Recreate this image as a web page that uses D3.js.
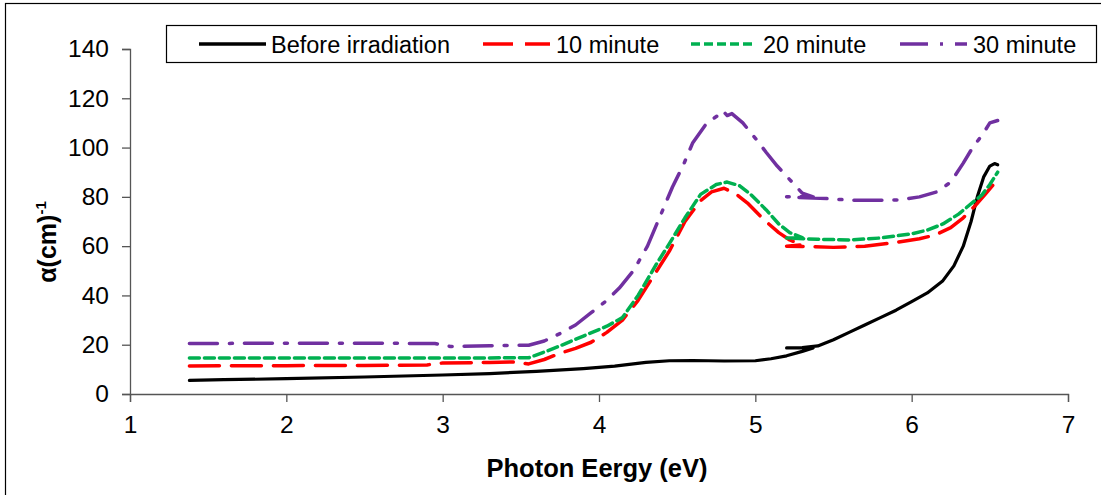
<!DOCTYPE html>
<html>
<head>
<meta charset="utf-8">
<script src="https://cdn.jsdelivr.net/npm/d3@7/dist/d3.min.js"></script>
<style>
  html, body { margin: 0; padding: 0; background: #fff; }
  svg { display: block; font-family: Arial, "Liberation Sans", sans-serif; }
</style>
</head>
<body>
<svg id="chart" width="1101" height="495"></svg>
<script>
// values: [photon energy (eV), alpha (cm^-1)]
const beforeData = [
  [1.38,5.5],[1.6,5.8],[2,6.2],[2.5,6.9],[3,7.7],[3.3,8.3],[3.6,9.2],[3.9,10.3],
  [4.1,11.3],[4.3,12.8],[4.45,13.5],[4.6,13.6],[4.8,13.4],[5.0,13.5],[5.1,14.3],
  [5.2,15.5],[5.3,17.3],[5.37,18.7],
  [5.2,18.7],[5.3,18.8],[5.4,19.5],[5.5,22],[5.6,25],[5.7,28],[5.8,31],[5.9,34],
  [6.0,37.5],[6.1,41],[6.2,46],[6.27,52],[6.33,60],[6.38,70],[6.42,80],[6.46,88],
  [6.5,92.5],[6.53,93.5],[6.55,93]
];
const min10Data = [
  [1.38,11.4],[2,11.5],[2.5,11.6],[2.9,11.8],[3.0,12.6],[3.3,12.8],[3.45,13],[3.55,12.2],
  [3.65,14],[3.75,16.5],[3.85,18.5],[3.95,21],[4.05,25],[4.15,30],[4.25,38],[4.35,48],
  [4.45,58],[4.55,70],[4.65,78.5],[4.72,82],[4.8,83.5],[4.88,81],[4.95,77.5],[5.05,71],
  [5.15,65.5],[5.22,62.5],[5.3,60.5],
  [5.2,60],[5.35,59.8],[5.5,59.5],[5.7,60],[5.9,61.5],[6.05,63],[6.15,64.5],[6.25,67.5],
  [6.33,71.5],[6.4,76],[6.47,81],[6.55,87]
];
const min20Data = [
  [1.38,14.6],[2,14.6],[3,14.6],[3.55,14.7],[3.65,17],[3.75,19.5],[3.9,23.5],[4.05,27.5],
  [4.15,31],[4.25,40],[4.37,53],[4.45,61],[4.55,71.5],[4.65,81],[4.75,85],[4.82,86],
  [4.9,84.5],[4.97,81],[5.07,74.7],[5.15,69],[5.22,65.5],[5.3,63.5],
  [5.2,63.3],[5.4,62.8],[5.6,62.5],[5.8,63.3],[6.0,65],[6.1,66.5],[6.2,69],[6.3,73],
  [6.37,76.7],[6.45,80.8],[6.5,85],[6.55,90]
];
const min30Data = [
  [1.38,20.5],[2.0,20.6],[2.5,20.6],[2.95,20.5],[3.05,19.3],[3.3,19.6],[3.55,19.8],
  [3.65,21.5],[3.75,24.5],[3.85,28],[3.95,33],[4.05,38],[4.13,43],[4.22,50],[4.31,60],
  [4.39,72],[4.47,84],[4.54,93],[4.6,102],[4.69,110],[4.76,113],[4.79,115],[4.82,113],
  [4.85,113.8],[4.92,110],[5.01,103],[5.07,98],[5.14,92.5],[5.22,87],[5.3,81.5],[5.37,80],
  [5.2,80],[5.46,79.3],[5.62,78.6],[5.8,78.6],[5.93,78.8],[6.05,80],[6.16,82],[6.25,86],
  [6.33,93.7],[6.39,100],[6.45,105],[6.5,110],[6.55,111]
];

const seriesNames = ['Before irradiation', '10 minute', '20 minute', '30 minute'];
const xTicks = [1, 2, 3, 4, 5, 6, 7];
const yTicks = [0, 20, 40, 60, 80, 100, 120, 140];

const series = [
  {name: seriesNames[0], data: beforeData, color: '#000000', dash: null,          w: 3.2},
  {name: seriesNames[1], data: min10Data,  color: '#ff0000', dash: '30,12',       w: 3.5},
  {name: seriesNames[2], data: min20Data,  color: '#00b050', dash: '10,5',        w: 3.5},
  {name: seriesNames[3], data: min30Data,  color: '#7030a0', dash: '28,12,3,12',  w: 3.5}
];

const svg = d3.select('#chart');

// outer frame of the figure
svg.append('rect')
  .attr('x', 5.5).attr('y', 3.5).attr('width', 1200).attr('height', 600)
  .attr('fill', 'none').attr('stroke', '#000').attr('stroke-width', 1.2);

const x = d3.scaleLinear().domain([1, 7]).range([130, 1068]);
const y = d3.scaleLinear().domain([0, 140]).range([394, 49]);

// axes
const gx = svg.append('g').attr('transform', `translate(0,${y(0)})`)
  .call(d3.axisBottom(x).tickValues(xTicks).tickSize(8).tickPadding(14).tickFormat(d3.format('d')));
const gy = svg.append('g').attr('transform', `translate(${x(1)},0)`)
  .call(d3.axisLeft(y).tickValues(yTicks).tickSize(8).tickPadding(13).tickFormat(d3.format('d')));

[gx, gy].forEach(g => {
  g.select('.domain').attr('stroke', '#555').attr('stroke-width', 1.3);
  g.selectAll('.tick line').attr('stroke', '#555').attr('stroke-width', 1.3);
  g.selectAll('.tick text').attr('fill', '#000').style('font-size', '24.5px')
    .style('font-family', 'Arial, "Liberation Sans", sans-serif');
});

// lines
const lineRaw = d3.line().x(d => x(d[0])).y(d => y(d[1]));

series.forEach(s => {
  svg.append('path')
    .attr('d', lineRaw(s.data))
    .attr('fill', 'none')
    .attr('stroke', s.color)
    .attr('stroke-width', s.w)
    .attr('stroke-linejoin', 'round')
    .attr('stroke-linecap', 'round')
    .attr('stroke-dasharray', s.dash);
});

// axis titles
svg.append('text')
  .attr('x', 597).attr('y', 477)
  .attr('text-anchor', 'middle')
  .style('font-size', '25.5px').style('font-weight', 'bold')
  .text('Photon Eergy (eV)');

const yl = svg.append('text')
  .attr('transform', 'translate(56,242) rotate(-90)')
  .attr('text-anchor', 'middle')
  .style('font-size', '25px').style('font-weight', 'bold');
yl.append('tspan').text('α(cm)');
yl.append('tspan').attr('dy', -10).style('font-size', '15px').text('-1');

// legend
const legend = svg.append('g');
legend.append('rect')
  .attr('x', 166.5).attr('y', 25.5).attr('width', 930).attr('height', 37)
  .attr('fill', '#fff').attr('stroke', '#000').attr('stroke-width', 1.2);

const legendPos = [
  {x0: 199, x1: 266, tx: 271},
  {x0: 483, x1: 550, tx: 556},
  {x0: 691, x1: 756, tx: 763},
  {x0: 900, x1: 967, tx: 973}
];
const legendDash = [null, '30,12', '9,4', '28,12,3,12'];

series.forEach((s, i) => {
  const p = legendPos[i];
  legend.append('line')
    .attr('x1', p.x0).attr('x2', p.x1).attr('y1', 44).attr('y2', 44)
    .attr('stroke', s.color).attr('stroke-width', 3.5)
    .attr('stroke-dasharray', legendDash[i]);
  legend.append('text')
    .attr('x', p.tx).attr('y', 52.5)
    .style('font-size', '23.5px')
    .text(s.name);
});
</script>
</body>
</html>
